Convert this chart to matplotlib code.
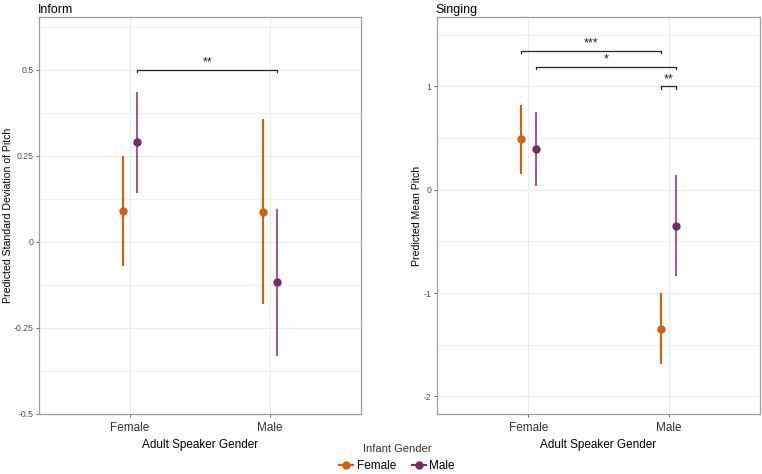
import numpy as np
import matplotlib
matplotlib.use("Agg")
import matplotlib.pyplot as plt
from matplotlib.lines import Line2D

plt.rcParams["font.family"] = ["Liberation Sans", "DejaVu Sans"]

# ==========================================
# データ
# ==========================================

speakers = ["Female", "Male"]
infants = ["Female", "Male"]

# Inform: Predicted SD of pitch  [speaker][infant]
inform_est = [[0.090, 0.289], [0.088, -0.118]]
inform_lo = [[-0.069, 0.141], [-0.182, -0.333]]
inform_hi = [[0.250, 0.436], [0.358, 0.095]]

# Singing: Predicted mean pitch
sing_est = [[0.487, 0.390], [-1.346, -0.352]]
sing_lo = [[0.155, 0.032], [-1.691, -0.839]]
sing_hi = [[0.816, 0.751], [-0.997, 0.145]]

# significance brackets: (speaker, infant) -> (speaker, infant), y, label
inform_sig = [((0, 1), (1, 1), 0.5, "**")]
sing_sig = [
    ((0, 0), (1, 0), 1.348, "***"),
    ((0, 1), (1, 1), 1.19, "*"),
    ((1, 0), (1, 1), 1.0, "**"),
]

COLORS = {"Female": "#D95F02", "Male": "#762A6B"}
DODGE = 0.053
GRID = "#EBEBEB"
FRAME = "#9E9E9E"

# ==========================================
# 描画関数
# ==========================================


def draw_panel(ax, est, lo, hi, sig, ylim, major, minor, ylabel, title,
               tick_h, ylab_x):
    ax.set_xlim(0.35, 2.65)
    ax.set_ylim(*ylim)

    for y in minor:
        ax.axhline(y, color=GRID, lw=0.5, zorder=0)
    for y in major:
        ax.axhline(y, color=GRID, lw=0.9, zorder=0)
    for x in [1, 2]:
        ax.axvline(x, color=GRID, lw=0.9, zorder=0)

    for i, sp in enumerate(speakers):
        for j, inf in enumerate(infants):
            x = i + 1 + (j - 0.5) * 2 * DODGE
            c = COLORS[inf]
            ax.plot([x, x], [lo[i][j], hi[i][j]], color=c, lw=1.5,
                    alpha=1.0 if inf == "Female" else 0.75, zorder=2,
                    solid_capstyle="butt")
            ax.plot(x, est[i][j], "o", color=c, ms=5, zorder=3)

    for (a, b, y, lab) in sig:
        xa = a[0] + 1 + (a[1] - 0.5) * 2 * DODGE
        xb = b[0] + 1 + (b[1] - 0.5) * 2 * DODGE
        ax.plot([xa, xa, xb, xb], [y - tick_h, y, y, y - tick_h],
                color="#222222", lw=0.9, zorder=4)
        ax.text((xa + xb) / 2, y + tick_h * 0.5, lab, ha="center",
                va="bottom", fontsize=9, color="#222222")

    ax.set_yticks(major)
    ax.set_yticklabels([("%g" % v) for v in major])
    ax.set_xticks([1, 2])
    ax.set_xticklabels(speakers)
    ax.tick_params(axis="y", labelsize=6.3, colors="#4D4D4D", length=2.5,
                   width=0.6, pad=1.5)
    ax.tick_params(axis="x", labelsize=8.5, labelcolor="#333333",
                   color="#4D4D4D", length=2.5, width=0.6, pad=3)
    for s in ax.spines.values():
        s.set_color(FRAME)
        s.set_linewidth(0.9)

    ax.set_ylabel(ylabel, fontsize=7.6)
    ax.yaxis.set_label_coords(ylab_x, 0.5)
    ax.set_xlabel("Adult Speaker Gender", fontsize=8.5, labelpad=4)
    ax.set_title(title, loc="left", fontsize=9, pad=3, x=-0.005)


# ==========================================
# Figure
# ==========================================

fig = plt.figure(figsize=(7.62, 4.74), dpi=100)

ax1 = fig.add_axes([0.0512, 0.1266, 0.4226, 0.8376])
ax2 = fig.add_axes([0.5735, 0.1266, 0.4239, 0.8376])

draw_panel(
    ax1, inform_est, inform_lo, inform_hi, inform_sig,
    (-0.5, 0.653),
    [-0.5, -0.25, 0, 0.25, 0.5],
    [-0.375, -0.125, 0.125, 0.375, 0.625],
    "Predicted Standard Deviation of Pitch", "Inform", 0.006, -0.080,
)
ax1.set_yticklabels(["-0.5", "-0.25", "0", "0.25", "0.5"])

draw_panel(
    ax2, sing_est, sing_lo, sing_hi, sing_sig,
    (-2.171, 1.673),
    [-2, -1, 0, 1],
    [-1.5, -0.5, 0.5, 1.5],
    "Predicted Mean Pitch", "Singing", 0.025, -0.048,
)

# ==========================================
# 凡例
# ==========================================

handles = [
    Line2D([0], [0], color=COLORS[k], marker="o", ms=5, lw=1.5)
    for k in infants
]
leg = fig.legend(
    handles, infants, title="Infant Gender", loc="center",
    bbox_to_anchor=(0.521, 0.034), ncol=2, frameon=False, fontsize=8.5,
    title_fontsize=8, handlelength=1.2, handletextpad=0.3,
    columnspacing=1.3,
)
leg.get_title().set_color("#333333")

fig.savefig("out.png", dpi=100)
